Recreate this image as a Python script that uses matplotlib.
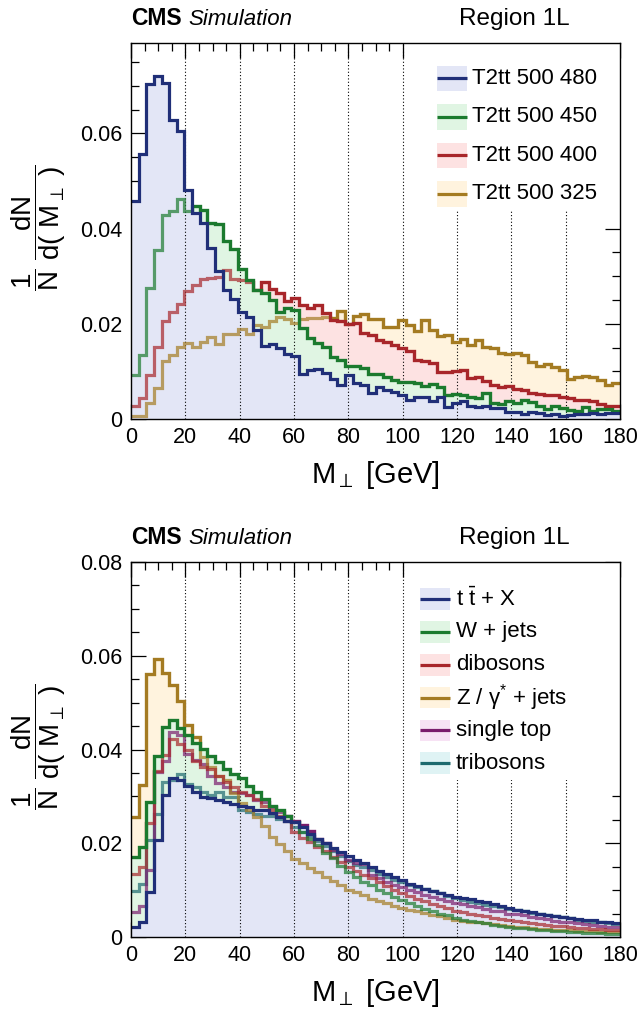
import numpy as np
import matplotlib
matplotlib.use("Agg")
import matplotlib.pyplot as plt
from matplotlib.patches import Rectangle, Polygon
from matplotlib.ticker import MultipleLocator

plt.rcParams['font.family'] = ['Liberation Sans', 'DejaVu Sans']
plt.rcParams['mathtext.fontset'] = 'custom'
plt.rcParams['mathtext.rm'] = 'Liberation Sans'
plt.rcParams['mathtext.it'] = 'Liberation Sans:italic'
plt.rcParams['mathtext.bf'] = 'Liberation Sans:bold'
plt.rcParams['mathtext.fallback'] = 'stixsans'

# ---- binning of M_perp (GeV) ----
x_min, x_max, n_bins = 0.0, 180.0, 64
x_ticks = [0, 20, 40, 60, 80, 100, 120, 140, 160, 180]

# ---- signal samples (normalised shapes), region 1L ----
signal_labels = ["T2tt 500 480", "T2tt 500 450", "T2tt 500 400", "T2tt 500 325"]
t2tt_500_480 = [0.0457, 0.0557, 0.0703, 0.0720, 0.0706, 0.0629, 0.0606, 0.0481, 0.0432, 0.0411,
                0.0359, 0.0310, 0.0271, 0.0252, 0.0224, 0.0215, 0.0187, 0.0154, 0.0158, 0.0150,
                0.0137, 0.0132, 0.0095, 0.0102, 0.0105, 0.0096, 0.0084, 0.0072, 0.0093, 0.0075,
                0.0072, 0.0054, 0.0068, 0.0060, 0.0056, 0.0051, 0.0040, 0.0046, 0.0047, 0.0038,
                0.0047, 0.0025, 0.0034, 0.0037, 0.0028, 0.0025, 0.0027, 0.0024, 0.0023, 0.0015,
                0.0014, 0.0011, 0.0014, 0.0013, 0.0009, 0.0011, 0.0007, 0.0008, 0.0011, 0.0011,
                0.0013, 0.0010, 0.0012, 0.0012]
t2tt_500_450 = [0.0093, 0.0135, 0.0276, 0.0355, 0.0429, 0.0436, 0.0462, 0.0438, 0.0448, 0.0439,
                0.0411, 0.0409, 0.0373, 0.0357, 0.0315, 0.0292, 0.0271, 0.0264, 0.0250, 0.0224,
                0.0233, 0.0228, 0.0191, 0.0170, 0.0159, 0.0152, 0.0131, 0.0124, 0.0112, 0.0112,
                0.0107, 0.0095, 0.0095, 0.0089, 0.0082, 0.0078, 0.0078, 0.0075, 0.0070, 0.0073,
                0.0068, 0.0051, 0.0053, 0.0051, 0.0047, 0.0045, 0.0054, 0.0033, 0.0032, 0.0037,
                0.0033, 0.0040, 0.0035, 0.0028, 0.0021, 0.0028, 0.0023, 0.0018, 0.0016, 0.0025,
                0.0016, 0.0020, 0.0020, 0.0016]
t2tt_500_400 = [0.0027, 0.0044, 0.0093, 0.0152, 0.0205, 0.0224, 0.0241, 0.0268, 0.0282, 0.0294,
                0.0296, 0.0298, 0.0313, 0.0294, 0.0291, 0.0287, 0.0271, 0.0287, 0.0273, 0.0264,
                0.0247, 0.0255, 0.0240, 0.0233, 0.0240, 0.0222, 0.0208, 0.0205, 0.0200, 0.0201,
                0.0180, 0.0177, 0.0165, 0.0161, 0.0156, 0.0149, 0.0142, 0.0124, 0.0121, 0.0117,
                0.0099, 0.0098, 0.0100, 0.0103, 0.0086, 0.0088, 0.0079, 0.0072, 0.0067, 0.0070,
                0.0063, 0.0060, 0.0054, 0.0052, 0.0050, 0.0050, 0.0046, 0.0045, 0.0040, 0.0039,
                0.0037, 0.0032, 0.0028, 0.0028]
t2tt_500_325 = [0.0007, 0.0007, 0.0034, 0.0065, 0.0121, 0.0135, 0.0152, 0.0159, 0.0152, 0.0161,
                0.0173, 0.0158, 0.0179, 0.0179, 0.0189, 0.0179, 0.0198, 0.0194, 0.0205, 0.0214,
                0.0210, 0.0201, 0.0210, 0.0212, 0.0212, 0.0215, 0.0212, 0.0227, 0.0199, 0.0217,
                0.0220, 0.0210, 0.0211, 0.0194, 0.0193, 0.0207, 0.0198, 0.0184, 0.0207, 0.0187,
                0.0175, 0.0177, 0.0162, 0.0168, 0.0156, 0.0165, 0.0151, 0.0149, 0.0138, 0.0137,
                0.0138, 0.0135, 0.0119, 0.0112, 0.0115, 0.0109, 0.0102, 0.0085, 0.0088, 0.0091,
                0.0088, 0.0081, 0.0072, 0.0075]

# ---- SM background samples (normalised shapes), region 1L ----
bkg_labels = [r"t $\mathrm{\bar{t}}$ + X", "W + jets", "dibosons",
              r"Z / $\mathrm{\gamma^{*}}$ + jets", "single top", "tribosons"]
ttbar_x = [0.0022, 0.0031, 0.0097, 0.0208, 0.0302, 0.0339, 0.0335, 0.0323, 0.0309, 0.0299,
           0.0297, 0.0292, 0.0287, 0.0284, 0.0280, 0.0277, 0.0272, 0.0270, 0.0264, 0.0257,
           0.0248, 0.0245, 0.0234, 0.0220, 0.0209, 0.0200, 0.0190, 0.0181, 0.0173, 0.0164,
           0.0158, 0.0149, 0.0141, 0.0134, 0.0127, 0.0122, 0.0114, 0.0109, 0.0102, 0.0099,
           0.0093, 0.0090, 0.0086, 0.0084, 0.0082, 0.0077, 0.0074, 0.0070, 0.0067, 0.0062,
           0.0058, 0.0056, 0.0053, 0.0049, 0.0047, 0.0045, 0.0043, 0.0040, 0.0038, 0.0037,
           0.0036, 0.0033, 0.0031, 0.0029]
w_jets = [0.0170, 0.0191, 0.0289, 0.0387, 0.0449, 0.0462, 0.0446, 0.0430, 0.0413, 0.0401,
          0.0387, 0.0373, 0.0358, 0.0348, 0.0339, 0.0323, 0.0309, 0.0294, 0.0280, 0.0270,
          0.0259, 0.0245, 0.0225, 0.0210, 0.0197, 0.0180, 0.0168, 0.0152, 0.0138, 0.0128,
          0.0118, 0.0110, 0.0101, 0.0094, 0.0086, 0.0079, 0.0072, 0.0066, 0.0060, 0.0055,
          0.0050, 0.0046, 0.0040, 0.0037, 0.0034, 0.0031, 0.0029, 0.0026, 0.0024, 0.0022,
          0.0020, 0.0019, 0.0017, 0.0016, 0.0015, 0.0013, 0.0012, 0.0011, 0.0010, 0.0009,
          0.0008, 0.0008, 0.0007, 0.0006]
dibosons = [0.0134, 0.0149, 0.0243, 0.0355, 0.0389, 0.0422, 0.0412, 0.0398, 0.0376, 0.0363,
            0.0358, 0.0344, 0.0330, 0.0319, 0.0309, 0.0304, 0.0294, 0.0280, 0.0270, 0.0259,
            0.0248, 0.0223, 0.0212, 0.0203, 0.0192, 0.0183, 0.0170, 0.0160, 0.0150, 0.0141,
            0.0133, 0.0125, 0.0118, 0.0109, 0.0101, 0.0094, 0.0088, 0.0081, 0.0076, 0.0071,
            0.0066, 0.0061, 0.0056, 0.0053, 0.0050, 0.0047, 0.0044, 0.0041, 0.0038, 0.0036,
            0.0034, 0.0032, 0.0030, 0.0028, 0.0026, 0.0024, 0.0023, 0.0022, 0.0020, 0.0019,
            0.0018, 0.0017, 0.0016, 0.0015]
z_gamma_jets = [0.0257, 0.0325, 0.0561, 0.0593, 0.0563, 0.0538, 0.0503, 0.0453, 0.0426, 0.0385,
                0.0362, 0.0344, 0.0334, 0.0307, 0.0286, 0.0270, 0.0255, 0.0237, 0.0214, 0.0198,
                0.0184, 0.0166, 0.0158, 0.0148, 0.0139, 0.0128, 0.0120, 0.0110, 0.0101, 0.0095,
                0.0089, 0.0082, 0.0077, 0.0072, 0.0066, 0.0061, 0.0058, 0.0055, 0.0051, 0.0048,
                0.0045, 0.0041, 0.0037, 0.0035, 0.0033, 0.0031, 0.0029, 0.0027, 0.0025, 0.0024,
                0.0022, 0.0021, 0.0019, 0.0018, 0.0017, 0.0016, 0.0015, 0.0014, 0.0013, 0.0012,
                0.0012, 0.0011, 0.0010, 0.0010]
single_top = [0.0053, 0.0067, 0.0142, 0.0351, 0.0376, 0.0437, 0.0430, 0.0390, 0.0378, 0.0369,
              0.0344, 0.0328, 0.0319, 0.0309, 0.0307, 0.0302, 0.0292, 0.0287, 0.0277, 0.0266,
              0.0259, 0.0248, 0.0238, 0.0226, 0.0210, 0.0200, 0.0186, 0.0178, 0.0165, 0.0158,
              0.0155, 0.0132, 0.0125, 0.0118, 0.0110, 0.0106, 0.0100, 0.0097, 0.0090, 0.0085,
              0.0081, 0.0076, 0.0072, 0.0070, 0.0066, 0.0063, 0.0060, 0.0056, 0.0055, 0.0050,
              0.0049, 0.0046, 0.0042, 0.0040, 0.0038, 0.0035, 0.0033, 0.0031, 0.0029, 0.0028,
              0.0026, 0.0024, 0.0022, 0.0021]
tribosons = [0.0099, 0.0113, 0.0206, 0.0262, 0.0330, 0.0335, 0.0348, 0.0326, 0.0319, 0.0309,
             0.0304, 0.0309, 0.0298, 0.0299, 0.0270, 0.0266, 0.0262, 0.0259, 0.0259, 0.0252,
             0.0248, 0.0234, 0.0225, 0.0215, 0.0205, 0.0195, 0.0184, 0.0172, 0.0162, 0.0154,
             0.0150, 0.0143, 0.0135, 0.0128, 0.0122, 0.0118, 0.0112, 0.0107, 0.0102, 0.0098,
             0.0094, 0.0088, 0.0083, 0.0079, 0.0075, 0.0072, 0.0069, 0.0066, 0.0063, 0.0060,
             0.0058, 0.0055, 0.0052, 0.0049, 0.0047, 0.0044, 0.0042, 0.0040, 0.0037, 0.0035,
             0.0033, 0.0031, 0.0029, 0.0027]

# line colour, fill colour for each sample
signal_colors = [("#202f78", "#e3e6f6"), ("#1b7a2e", "#e0f5e3"),
                 ("#a8262a", "#fde2e2"), ("#a47b22", "#fff3de")]
bkg_colors = [("#202f78", "#e3e6f6"), ("#1b7a2e", "#e0f5e3"), ("#a8262a", "#fde2e2"),
              ("#a47b22", "#fff3de"), ("#7a1c6c", "#f7e2f4"), ("#1d6a6e", "#dff3f4")]
hidden_alpha = 0.7   # strength of a line where another sample's fill lies over it

edges = np.linspace(x_min, x_max, n_bins + 1)

W, H = 642, 1025
fig = plt.figure(figsize=(W / 100, H / 100), dpi=100)


def px_axes(x0, y0, x1, y1):
    return fig.add_axes([x0 / W, 1 - y1 / H, (x1 - x0) / W, (y1 - y0) / H])


def style_axes(ax, ymax, ymajor):
    ax.set_xlim(x_min, x_max)
    ax.set_ylim(0, ymax)
    ax.set_xticks(x_ticks)
    ax.xaxis.set_minor_locator(MultipleLocator(5))
    ax.yaxis.set_major_locator(MultipleLocator(ymajor))
    ax.yaxis.set_minor_locator(MultipleLocator(0.005))
    ax.yaxis.set_major_formatter(plt.FuncFormatter(lambda v, p: "0" if v == 0 else f"{v:.2f}"))
    ax.tick_params(which="both", direction="in", top=True, right=True, labelsize=15.5,
                   width=0.9, colors="black")
    ax.tick_params(which="major", length=11, pad=6)
    ax.tick_params(which="minor", length=6)
    for s in ax.spines.values():
        s.set_linewidth(1.0)
        s.set_zorder(7)
    # dotted vertical guides at the labelled x values
    for xv in x_ticks[1:-1]:
        ax.axvline(xv, linestyle=(0, (1, 2)), color="black", linewidth=0.8, zorder=2.5)
    ax.set_xlabel(r"M$_{\perp}$ [GeV]", fontsize=21, labelpad=8)


def draw_hists(ax, series, colors):
    n = len(series)
    top = ax.get_ylim()[1] * 10
    # fills: the first sample lies on top of the others
    for k in range(n - 1, -1, -1):
        ax.stairs(series[k], edges, fill=True, color=colors[k][1], zorder=2, linewidth=0)
    for k in range(n - 1, -1, -1):
        lc = colors[k][0]
        if k == 0:
            ax.stairs(series[k], edges, color=lc, linewidth=2.3, baseline=None, zorder=3.2)
            continue
        # parts of this outline lying under an earlier sample's fill are drawn weaker
        ax.stairs(series[k], edges, color=lc, linewidth=2.3, baseline=None,
                  alpha=hidden_alpha, zorder=3.0)
        cover = np.max(np.array(series[:k]), axis=0)
        xs = np.repeat(edges, 2)[1:-1]
        ys = np.repeat(cover, 2)
        verts = [(x_min - 10, top), (x_min - 10, ys[0])] + list(zip(xs, ys)) + \
                [(x_max + 10, ys[-1]), (x_max + 10, top)]
        clip = Polygon(verts, closed=True, transform=ax.transData)
        full = ax.stairs(series[k], edges, color=lc, linewidth=2.3, baseline=None, zorder=3.1)
        full.set_clip_path(clip)


def draw_legend(ax, labels, colors, box, y_first, dy, hx0, hx1, hh, tx, fs):
    ax.add_patch(Rectangle((box[0], box[1]), box[2] - box[0], box[3] - box[1],
                           transform=ax.transAxes, facecolor="white", edgecolor="none", zorder=4))
    for i, (lab, (lc, fc)) in enumerate(zip(labels, colors)):
        yc = y_first - i * dy
        ax.add_patch(Rectangle((hx0, yc - hh / 2), hx1 - hx0, hh, transform=ax.transAxes,
                               facecolor=fc, edgecolor="none", zorder=5))
        ax.plot([hx0, hx1], [yc, yc], transform=ax.transAxes, color=lc, lw=2.3, zorder=6,
                solid_capstyle="butt")
        ax.text(tx, yc, lab, transform=ax.transAxes, fontsize=fs, va="center", ha="left",
                zorder=6)


def header(ax):
    ax.text(0.0, 1.035, "CMS", transform=ax.transAxes, fontsize=16.5, fontweight="bold",
            ha="left", va="bottom")
    ax.text(0.118, 1.035, "Simulation", transform=ax.transAxes, fontsize=16, style="italic",
            ha="left", va="bottom")
    ax.text(0.67, 1.035, "Region 1L", transform=ax.transAxes, fontsize=17.5,
            ha="left", va="bottom")


ylab = r"$\dfrac{1}{\mathrm{N}}\ \dfrac{\mathrm{dN}}{\mathrm{d(\ M_{\perp}\ )}}$"

# ---- upper panel: signal points ----
ax1 = px_axes(131, 43, 620, 419)
style_axes(ax1, 0.079, 0.02)
draw_hists(ax1, [t2tt_500_480, t2tt_500_450, t2tt_500_400, t2tt_500_325], signal_colors)
draw_legend(ax1, signal_labels, signal_colors, (0.57, 0.555, 1.0, 1.0),
            0.906, 0.1025, 0.626, 0.688, 0.068, 0.698, 16)
header(ax1)
fig.text(0.06, 1 - 228 / H, ylab, rotation=90, fontsize=20, ha="center", va="center")

# ---- lower panel: SM backgrounds ----
ax2 = px_axes(131, 562, 620, 937)
style_axes(ax2, 0.08, 0.02)
draw_hists(ax2, [ttbar_x, w_jets, dibosons, z_gamma_jets, single_top, tribosons], bkg_colors)
draw_legend(ax2, bkg_labels, bkg_colors, (0.57, 0.42, 1.0, 1.0),
            0.901, 0.0875, 0.591, 0.652, 0.058, 0.664, 16)
header(ax2)
fig.text(0.06, 1 - 747 / H, ylab, rotation=90, fontsize=20, ha="center", va="center")

fig.savefig("out.png", dpi=100)
